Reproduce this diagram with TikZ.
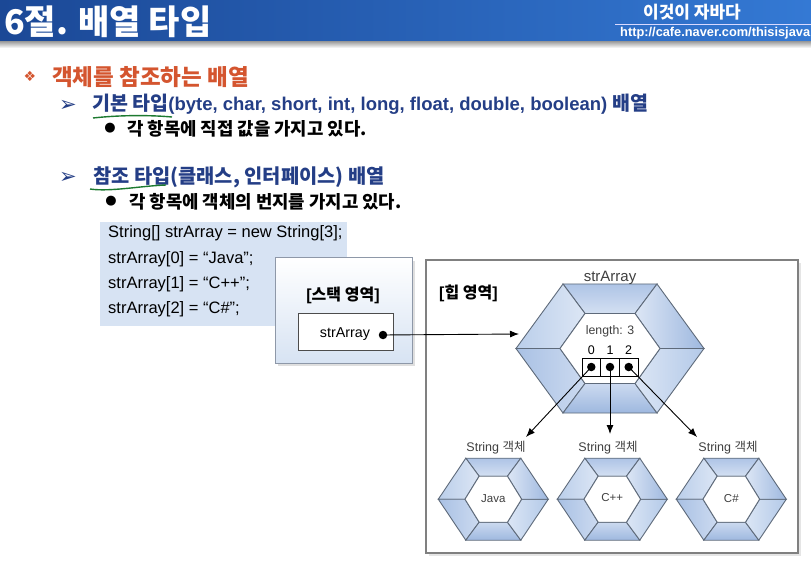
\documentclass[tikz,border=0pt]{standalone}
\usepackage{fontspec}
\setmainfont{Liberation Sans}
\newfontfamily\kr{Noto Sans CJK KR}
\newfontfamily\symfont{DejaVu Sans}
\usetikzlibrary{arrows.meta,shadows,positioning}

\definecolor{barL}{HTML}{1B4896}
\definecolor{barR}{HTML}{3479D4}
\definecolor{headred}{HTML}{D4552F}
\definecolor{navy}{HTML}{243E86}
\definecolor{inkgreen}{HTML}{1D7A30}
\definecolor{codefill}{HTML}{D7E3F3}
\definecolor{hexline}{HTML}{5E6A7A}
\definecolor{boxline}{HTML}{8E98A8}

\tikzset{
  heading/.style={anchor=west, inner sep=0, text=headred, font=\kr\fontsize{22.5}{24}\selectfont\bfseries},
  subhead/.style={anchor=west, inner sep=0, text=navy, font=\fontsize{18.5}{20}\selectfont\bfseries},
  itemtext/.style={anchor=west, inner sep=0, font=\kr\fontsize{17.8}{19}\selectfont\bfseries},
  codeline/.style={anchor=west, inner sep=0, font=\fontsize{16.5}{18}\selectfont},
  arealabel/.style={inner sep=0, font=\fontsize{16}{18}\selectfont\bfseries},
  hexlabel/.style={inner sep=0, text=black!75, font=\fontsize{12.5}{14}\selectfont},
  hexedge/.style={draw=hexline, line width=0.9pt},
  cellbox/.style={draw=black, fill=white, line width=0.9pt, minimum width=18.7pt, minimum height=18pt, inner sep=0},
  dotmark/.style={circle, fill=black, minimum size=8.5pt, inner sep=0},
  ptr/.style={-{Latex[length=9pt,width=7pt]}, line width=0.9pt},
}

% hexagon ring: centre x, centre y, outer half width, outer half height, inner half width, inner half height
\newcommand{\hexring}[6]{%
\begin{scope}[shift={(#1,#2)}]
  \coordinate (o0) at (#3,0);
  \coordinate (o1) at ({#3/2},-#4);
  \coordinate (o2) at ({-#3/2},-#4);
  \coordinate (o3) at (-#3,0);
  \coordinate (o4) at ({-#3/2},#4);
  \coordinate (o5) at ({#3/2},#4);
  \coordinate (i0) at (#5,0);
  \coordinate (i1) at ({#5/2},-#6);
  \coordinate (i2) at ({-#5/2},-#6);
  \coordinate (i3) at (-#5,0);
  \coordinate (i4) at ({-#5/2},#6);
  \coordinate (i5) at ({#5/2},#6);
  \shadedraw[hexedge, top color=hexA, bottom color=hexB] (o1) -- (o2) -- (i2) -- (i1) -- cycle;
  \shadedraw[hexedge, left color=hexC, right color=hexD] (o2) -- (o3) -- (i3) -- (i2) -- cycle;
  \shadedraw[hexedge, left color=hexE, right color=hexF] (o3) -- (o4) -- (i4) -- (i3) -- cycle;
  \shadedraw[hexedge, top color=hexF, bottom color=hexG] (o4) -- (o5) -- (i5) -- (i4) -- cycle;
  \shadedraw[hexedge, left color=hexD, right color=hexH] (o5) -- (o0) -- (i0) -- (i5) -- cycle;
  \shadedraw[hexedge, left color=hexD, right color=hexG] (o0) -- (o1) -- (i1) -- (i0) -- cycle;
  \filldraw[hexedge, fill=white] (i0) -- (i1) -- (i2) -- (i3) -- (i4) -- (i5) -- cycle;
\end{scope}}
\definecolor{hexA}{HTML}{AEC4E6}
\definecolor{hexB}{HTML}{D4E0F2}
\definecolor{hexC}{HTML}{BACEEA}
\definecolor{hexD}{HTML}{DCE6F5}
\definecolor{hexE}{HTML}{A9C1E4}
\definecolor{hexF}{HTML}{CCDAF0}
\definecolor{hexG}{HTML}{9EB8DF}
\definecolor{hexH}{HTML}{B3C9E8}

\begin{document}
\begin{tikzpicture}[x=1pt, y=-1pt]
	\useasboundingbox (0,0) rectangle (811,561);
	\fill[white] (0,0) rectangle (811,561);
	
	% title bar
	\shade[left color=barL, right color=barR] (0,0) rectangle (811,42);
	\shade[top color=black!35, bottom color=white] (0,42) rectangle (811,48);
	\node[anchor=west, inner sep=0, text=white, font=\kr\fontsize{34}{36}\selectfont\bfseries] (title) at (4,22) {6절. 배열 타입};
	\node[inner sep=0, text=white, font=\kr\fontsize{17}{19}\selectfont\bfseries] (book) at (692,12) {이것이 자바다};
	\draw[white!85!blue, line width=0.8pt] (615,24) -- (811,24);
	\node[anchor=west, inner sep=0, text=white, font=\fontsize{12.8}{14}\selectfont\bfseries] (url) at (620,33) {http://cafe.naver.com/thisisjava};
	
	% bullet text
	\node[inner sep=0, text=headred, font=\symfont\fontsize{14}{16}\selectfont] (m1) at (30,76) {❖};
	\node[heading] (h1) at (52,77) {객체를 참조하는 배열};
	\node[inner sep=0, text=navy, font=\symfont\fontsize{21}{23}\selectfont] (m2) at (68,106) {➢};
	\node[subhead] (h2) at (92,104) {{\kr\fontsize{19.5}{20}\selectfont 기본 타입}(byte, char, short, int, long, float, double, boolean) {\kr\fontsize{19.5}{20}\selectfont 배열}};
	\node[inner sep=0, font=\symfont\fontsize{13}{15}\selectfont] (m3) at (110,128) {●};
	\node[itemtext] (h3) at (127,129) {각 항목에 직접 값을 가지고 있다.};
	\node[inner sep=0, text=navy, font=\symfont\fontsize{21}{23}\selectfont] (m4) at (68,178) {➢};
	\node[subhead, font=\kr\fontsize{19.8}{21}\selectfont\bfseries] (h4) at (93,177) {참조 타입(클래스, 인터페이스) 배열};
	\node[inner sep=0, font=\symfont\fontsize{13}{15}\selectfont] (m5) at (111,201) {●};
	\node[itemtext] (h5) at (129,202) {각 항목에 객체의 번지를 가지고 있다.};
	\draw[inkgreen, line width=1.4pt] (93,118) .. controls (120,115) and (150,115) .. (172,117);
	\draw[inkgreen, line width=1.4pt] (90,189) .. controls (110,192) and (140,186) .. (166,185);
	
	% code
	\node[fill=codefill, minimum width=247pt, minimum height=104pt, inner sep=0] (code) at (223.5,274) {};
	\node[codeline] (cl1) at (108,233) {String[] strArray = new String[3];};
	\node[codeline] (cl2) at (108,259) {strArray[0] = “Java”;};
	\node[codeline] (cl3) at (108,284) {strArray[1] = “C++”;};
	\node[codeline] (cl4) at (108,309) {strArray[2] = “C\#”;};
	
	% stack
	\node[draw=boxline, line width=1pt, top color=white, bottom color=codefill, minimum width=137pt, minimum height=105pt, drop shadow={opacity=0.25}] (stack) at (343.5,310.5) {};
	\node[arealabel] (stklbl) at (343,295) {[{\kr 스택 영역}]};
	\node[draw=black!70, fill=white, line width=1pt, minimum width=95pt, minimum height=37pt] (var) at (345.5,331.5) {};
	\node[codeline, anchor=center, font=\fontsize{14.3}{16}\selectfont] (vartxt) at (345,334) {strArray};
	\node[dotmark] (sdot) at (383,335) {};
	
	% heap
	\node[draw=black!50, line width=1.6pt, fill=white, minimum width=372pt, minimum height=293pt, drop shadow={opacity=0.2}] (heap) at (612,406.5) {};
	\node[arealabel, anchor=west] (heaplbl) at (439,293) {[{\kr 힙 영역}]};
	
	\hexring{610}{348.5}{94}{64.5}{50}{35}
	\node[hexlabel, font=\fontsize{15}{17}\selectfont] (arrlbl) at (610,278) {strArray};
	\node[hexlabel, font=\fontsize{12.3}{14}\selectfont] (len) at (610,331) {length: 3};
	\node[cellbox] (c0) at (591.3,367) {};
	\node[cellbox] (c1) at (610,367) {};
	\node[cellbox] (c2) at (628.7,367) {};
	\node[hexlabel, text=black] (n0) at (591.3,350) {0};
	\node[hexlabel, text=black] (n1) at (610,350) {1};
	\node[hexlabel, text=black] (n2) at (628.7,350) {2};
	\node[dotmark] (d0) at (591.3,367) {};
	\node[dotmark] (d1) at (610,367) {};
	\node[dotmark] (d2) at (628.7,367) {};
	
	\hexring{493.3}{499.2}{55}{41}{28.3}{23}
	\hexring{612.3}{499.2}{55}{41}{28.3}{23}
	\hexring{731.3}{499.2}{55}{41}{28.3}{23}
	\node[hexlabel] (so0) at (496,448) {String {\kr 객체}};
	\node[hexlabel] (so1) at (608,448) {String {\kr 객체}};
	\node[hexlabel] (so2) at (728,448) {String {\kr 객체}};
	\node[hexlabel, font=\fontsize{11.5}{13}\selectfont] (v0) at (493.3,499) {Java};
	\node[hexlabel, font=\fontsize{11.5}{13}\selectfont] (v1) at (612.3,498) {C++};
	\node[hexlabel, font=\fontsize{11.5}{13}\selectfont] (v2) at (731.3,499) {C\#};
	
	% pointers
	\coordinate (hexin) at (519,334);
	\coordinate (t0) at (526,437);
	\coordinate (t1) at (610,434);
	\coordinate (t2) at (697,437);
	\draw[ptr] (sdot.center) -- (hexin);
	\draw[ptr] (d0.center) -- (t0);
	\draw[ptr] (d1.center) -- (t1);
	\draw[ptr] (d2.center) -- (t2);
	
\end{tikzpicture}
\end{document}
